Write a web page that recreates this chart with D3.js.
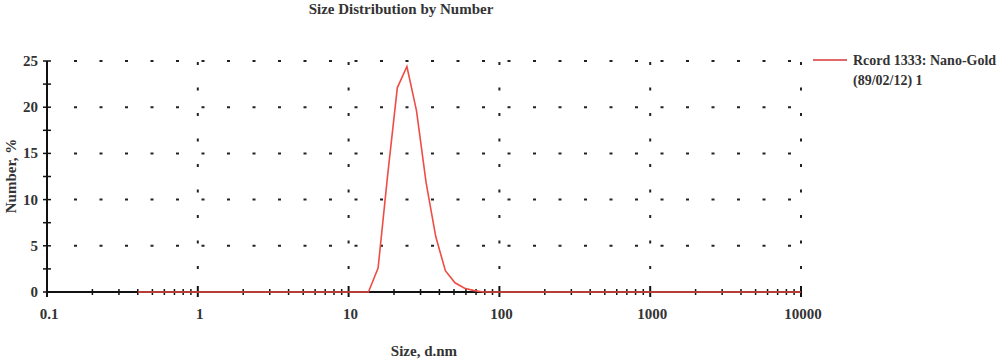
<!DOCTYPE html>
<html><head><meta charset="utf-8">
<script src="https://cdn.jsdelivr.net/npm/d3@7"></script>
<style>body{margin:0;background:#fff}svg{display:block}text{font-family:"Liberation Serif","DejaVu Serif",serif;fill:#333;font-weight:bold}</style>
</head><body>
<svg id="c" width="1000" height="360"></svg>
<script>
const sizes = [0.4,0.4632,0.5365,0.6213,0.7195,0.8332,0.9649,1.117,1.294,1.499,1.736,2.010,2.328,2.696,3.122,3.615,4.187,4.849,5.615,6.503,7.531,8.721,10.10,11.70,13.54,15.69,18.17,21.04,24.36,28.21,32.67,37.84,43.82,50.75,58.77,68.06,78.82,91.28,105.7,122.4,141.8,164.2,190.1,220.2,255.0,295.3,342.0,396.1,458.7,531.2,615.1,712.4,825.0,955.4,1106,1281,1484,1718,1990,2305,2669,3091,3580,4145,4801,5560,6439,7456,8635,10000];
const numberPct = [0,0,0,0,0,0,0,0,0,0,0,0,0,0,0,0,0,0,0,0,0,0,0,0,0,2.6,12.7,22.1,24.4,19.6,11.8,6.0,2.3,1.0,0.4,0.15,0,0,0,0,0,0,0,0,0,0,0,0,0,0,0,0,0,0,0,0,0,0,0,0,0,0,0,0,0,0,0,0,0,0];
const xTickLabels = ["0.1","1","10","100","1000","10000"];
const xMajor = [0.1,1,10,100,1000,10000];
const yTicks = [0,5,10,15,20,25];
const yMinor = [2.5,7.5,12.5,17.5,22.5];
const title = "Size Distribution by Number";
const seriesName = ["Rcord 1333: Nano-Gold","(89/02/12) 1"];

const svg = d3.select("#c");
const x = d3.scaleLog().domain([0.1,10000]).range([47,801]);
const y = d3.scaleLinear().domain([0,25]).range([292,61]);

svg.append("text").attr("x",401).attr("y",14).attr("text-anchor","middle").style("font-size","15px").text(title);

// grid
const g = svg.append("g");
g.selectAll("line.h").data(yTicks.slice(1)).join("line")
 .attr("x1",74).attr("x2",801).attr("y1",d=>y(d)).attr("y2",d=>y(d))
 .attr("stroke","#222").attr("stroke-width",2).attr("stroke-dasharray","3,22.5");
g.selectAll("line.v").data(xMajor.slice(1)).join("line")
 .attr("x1",d=>x(d)).attr("x2",d=>x(d)).attr("y1",62).attr("y2",290)
 .attr("stroke","#222").attr("stroke-width",2).attr("stroke-dasharray","3,22.5");

// axes lines
svg.append("line").attr("x1",47).attr("x2",47).attr("y1",61).attr("y2",292).attr("stroke","#111").attr("stroke-width",2);
svg.append("line").attr("x1",46).attr("x2",801).attr("y1",292).attr("y2",292).attr("stroke","#111").attr("stroke-width",2);

// y ticks
svg.selectAll("line.yt").data(yTicks.concat(yMinor)).join("line")
 .attr("x1",43).attr("x2",51).attr("y1",d=>y(d)).attr("y2",d=>y(d)).attr("stroke","#111").attr("stroke-width",1.5);
svg.selectAll("text.yl").data(yTicks).join("text")
 .attr("x",38).attr("y",d=>y(d)+5).attr("text-anchor","end").style("font-size","15px").text(d=>d);

// x ticks
const minor = [];
x.ticks().forEach(t=>{ if(!xMajor.some(m=>Math.abs(m-t)<1e-9)) minor.push(t); });
svg.selectAll("line.xm").data(minor).join("line")
 .attr("x1",d=>x(d)).attr("x2",d=>x(d)).attr("y1",289).attr("y2",295).attr("stroke","#111").attr("stroke-width",1.5);
svg.selectAll("line.xM").data(xMajor).join("line")
 .attr("x1",d=>x(d)).attr("x2",d=>x(d)).attr("y1",286).attr("y2",297).attr("stroke","#111").attr("stroke-width",2);
svg.selectAll("text.xl").data(xMajor).join("text")
 .attr("x",d=>x(d)+2).attr("y",319).attr("text-anchor","middle").style("font-size","15px").text((d,i)=>xTickLabels[i]);

// axis titles
svg.append("text").attr("x",424).attr("y",356).attr("text-anchor","middle").style("font-size","15px").text("Size, d.nm");
svg.append("text").attr("transform","translate(16,176) rotate(-90)").attr("text-anchor","middle").style("font-size","15px").text("Number, %");

// series
const line = d3.line().x((d,i)=>x(sizes[i])).y(d=>y(d));
svg.append("path").datum(numberPct).attr("d",line).attr("fill","none").attr("stroke","#ee4d45").attr("stroke-width",1.6);

// legend
svg.append("line").attr("x1",813).attr("x2",847).attr("y1",60).attr("y2",60).attr("stroke","#e06868").attr("stroke-width",2);
svg.append("text").attr("x",853).attr("y",65).style("font-size","14px").text(seriesName[0]);
svg.append("text").attr("x",853).attr("y",85).style("font-size","14px").text(seriesName[1]);
</script>
</body></html>
